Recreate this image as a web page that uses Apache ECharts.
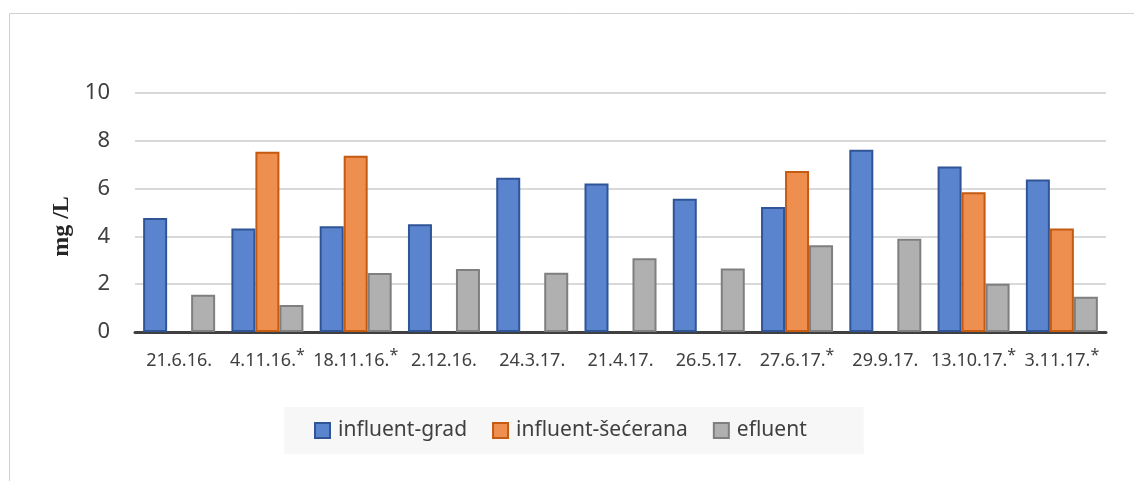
<!DOCTYPE html>
<html>
<head>
<meta charset="utf-8">
<script src="https://cdn.jsdelivr.net/npm/echarts@6/dist/echarts.min.js"></script>
<style>
html,body{margin:0;padding:0;background:#fff;}
#chart{width:1134px;height:481px;}
</style>
</head>
<body>
<div id="chart"></div>
<script>
const categories = ['21.6.16.', '4.11.16.*', '18.11.16.*', '2.12.16.', '24.3.17.', '21.4.17.', '26.5.17.', '27.6.17.*', '29.9.17.', '13.10.17.*', '3.11.17.*'];
const influentGrad = [4.77, 4.33, 4.42, 4.51, 6.45, 6.21, 5.58, 5.23, 7.63, 6.92, 6.38];
const influentSecerana = [null, 7.54, 7.37, null, null, null, null, 6.74, null, 5.85, 4.33];
const efluent = [1.56, 1.13, 2.47, 2.64, 2.48, 3.09, 2.66, 3.63, 3.9, 2.02, 1.48];
const seriesNames = ['influent-grad', 'influent-šećerana', 'efluent'];
const yTicks = {min: 0, max: 10, interval: 2};

const chart = echarts.init(document.getElementById('chart'));
const fills = ['#5b84cf', '#ee8e4f', '#b0b0b0'];
const borders = ['#2f5597', '#c55a11', '#7f7f7f'];
const dataSets = [influentGrad, influentSecerana, efluent];

chart.setOption({
  animation: false,
  graphic: [{
    type: 'rect', left: 7, top: 11, silent: true,
    shape: {width: 1200, height: 600},
    style: {fill: 'none', stroke: '#d0d0d0', lineWidth: 1}
  }],
  grid: {left: 135, right: 28, top: 93, bottom: 149},
  legend: {
    left: 284, top: 407,
    padding: [13, 57, 13, 30],
    backgroundColor: '#f7f7f7',
    icon: 'rect',
    itemWidth: 15, itemHeight: 15, itemGap: 25,
    textStyle: {fontFamily: 'Noto Sans', fontSize: 21, color: '#404040', padding: [0, 0, 0, 3]},
    data: seriesNames
  },
  xAxis: {
    type: 'category',
    data: categories,
    axisLine: {lineStyle: {color: '#404040', width: 3}},
    axisTick: {show: false},
    axisLabel: {
      interval: 0, margin: 15,
      fontFamily: 'Noto Sans', fontSize: 18, color: '#404040',
      formatter: function (v) {
        if (v.endsWith('*')) return v.slice(0, -1) + '{sup|*}';
        return v + '{sup|\u200b}';
      },
      rich: {sup: {fontFamily: 'Noto Sans', fontSize: 16, color: '#404040', padding: [0, 0, 12, 0]}}
    }
  },
  yAxis: {
    type: 'value',
    min: yTicks.min, max: yTicks.max, interval: yTicks.interval,
    name: 'mg /L',
    nameLocation: 'middle',
    nameGap: 59,
    nameTextStyle: {fontFamily: 'Liberation Serif', fontWeight: 'bold', fontSize: 24, color: '#262626', padding: [0, 28, 0, 0]},
    axisLine: {show: false},
    axisTick: {show: false},
    axisLabel: {margin: 25, fontFamily: 'Noto Sans', fontSize: 22, color: '#404040'},
    splitLine: {lineStyle: {color: '#d9d9d9', width: 2}}
  },
  series: dataSets.map(function (d, i) {
    return {
      name: seriesNames[i],
      type: 'bar',
      data: d,
      barWidth: 24,
      barGap: '0%',
      itemStyle: {color: fills[i], borderColor: borders[i], borderWidth: 2}
    };
  })
});
</script>
</body>
</html>
